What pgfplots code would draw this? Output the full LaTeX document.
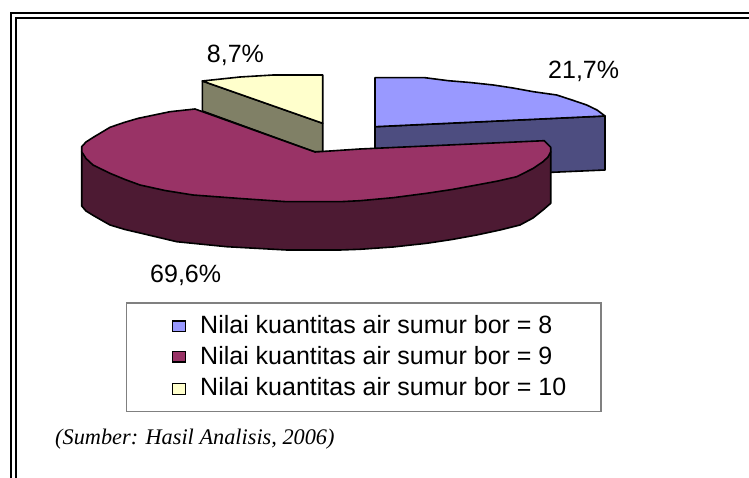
\documentclass[border=0pt]{standalone}
\usepackage{fontspec}
\setmainfont{Liberation Sans}
\newfontfamily\timesf{Liberation Serif}
\usepackage{pgfplots}
\pgfplotsset{compat=1.18}
\definecolor{cblue}{HTML}{9999FF}
\definecolor{cblued}{HTML}{4D4D80}
\definecolor{cmar}{HTML}{993366}
\definecolor{cmard}{HTML}{4D1A33}
\definecolor{cyel}{HTML}{FFFFCC}
\definecolor{cyeld}{HTML}{808066}
\pgfplotsset{
  slice/.style={draw=black,line width=1.6pt,line join=round,forget plot},
  swatch/.style={draw=black,line width=1.6pt,forget plot}
}
\tikzset{lab/.style={anchor=base west,inner sep=0pt,font=\fontsize{25}{28}\selectfont}}
\begin{document}
\begin{tikzpicture}
\path[use as bounding box] (0,0) rectangle (749pt,478pt);
\begin{axis}[
  scale only axis,width=749pt,height=478pt,
  xmin=0,xmax=749,ymin=0,ymax=478,y dir=reverse,
  axis lines=none,clip=false,
]
% frame
\addplot[black,line width=2.5pt,forget plot] coordinates {(11.2,478) (11.2,13) (749,13)};
\addplot[black,line width=2.5pt,forget plot] coordinates {(16.2,478) (16.2,18) (749,18)};
% blue slice 21.7
\addplot[slice,fill=cblued] coordinates {(375,126.7) (605,116) (605,170) (375,180)} --cycle;
\addplot[slice,fill=cblue] coordinates {(375,126.7) (375,77.7) (425,77.7) (448.3,80.7) (470,82.5) (493.3,85) (513,88) (533.3,91.7) (556.7,95) (572,100) (586.7,105) (597,110) (605,116)} --cycle;
% yellow slice 8.7
\addplot[slice,fill=cyeld] coordinates {(202.3,81) (322.7,123.3) (322.7,152) (315,152) (202.3,111)} --cycle;
\addplot[slice,fill=cyel] coordinates {(202.3,81) (240,77) (273.3,75) (322.7,75) (322.7,123.3)} --cycle;
% maroon slice 69.6
\addplot[slice,fill=cmard] coordinates {(81.7,151.7) (81.7,206) (86,211) (93.3,215.5) (110,225) (125,229.5) (140,233) (176.7,241.7) (226.7,246.7) (286.7,250) (340,250) (360,249.3) (393,247) (426.7,243.3) (452,239.5) (476.7,235) (500,230) (520,225) (533,218) (543,210) (550.7,203.3) (550.7,151.7)} --cycle;
\addplot[slice,fill=cmar] coordinates {(315,152) (195,109) (170,111.7) (138.3,118.3) (124,122.5) (110,127.3) (93.3,137.3) (86,142) (81.7,146.7) (81.7,151.7) (86,158.5) (93,165) (110,173.3) (125,179.5) (140,185) (165,190.5) (193,195) (240,198.5) (286.7,201.7) (340,201.7) (360,200.7) (393,197.7) (426.7,193.3) (452,189.5) (476.7,185) (498,181) (516.7,176.7) (533,168.5) (543,161.7) (548,157) (550.7,151.7) (550.7,147.3) (544.3,140.7) (360,149)} --cycle;
% legend box
\addplot[draw=black!50,line width=1.4pt,fill=white,forget plot] coordinates {(126.7,303) (601,303) (601,411.7) (126.7,411.7)} --cycle;
\addplot[swatch,fill=cblue] coordinates {(172.5,320.7) (185.3,320.7) (185.3,331.6) (172.5,331.6)} --cycle;
\addplot[swatch,fill=cmar] coordinates {(172.5,351.5) (185.3,351.5) (185.3,362) (172.5,362)} --cycle;
\addplot[swatch,fill=cyel] coordinates {(172.5,383.5) (185.3,383.5) (185.3,394.5) (172.5,394.5)} --cycle;
\node[lab] at (axis cs:200,333.3) {Nilai kuantitas air sumur bor = 8};
\node[lab] at (axis cs:200,364) {Nilai kuantitas air sumur bor = 9};
\node[lab] at (axis cs:200,395.7) {Nilai kuantitas air sumur bor = 10};
% labels
\node[lab] at (axis cs:548,78.3) {21,7\%};
\node[lab] at (axis cs:150,282) {69,6\%};
\node[lab] at (axis cs:206.7,63) {8,7\%};
\node[anchor=base west,inner sep=0pt,font=\timesf\itshape\fontsize{22.3}{26}\selectfont] at (axis cs:55,444) {(Sumber: Hasil Analisis, 2006)};
\end{axis}
\end{tikzpicture}
\end{document}
